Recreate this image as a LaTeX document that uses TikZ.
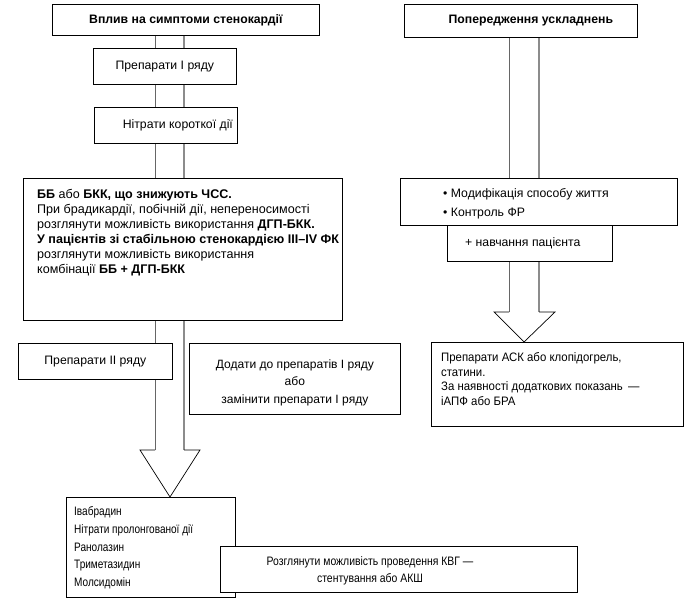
\documentclass[tikz,border=0pt]{standalone}
\usepackage{fontspec}
\setmainfont{Liberation Sans}
\newfontfamily\narrowA[FakeStretch=0.82]{Liberation Sans}
\newfontfamily\narrowB[FakeStretch=0.85]{Liberation Sans}
\newfontfamily\narrowC[FakeStretch=0.93]{Liberation Sans}
\begin{document}
\begin{tikzpicture}[x=1bp,y=-1bp,
  box/.style={draw=black, line width=0.7bp, fill=white, inner sep=0, anchor=north west},
  txt/.style={inner sep=0, font=\fontsize{12.3}{15}\selectfont},
  btxt/.style={inner sep=0, font=\fontsize{12.3}{15}\selectfont\bfseries},
  shaftA/.style={draw=black!60, line width=0.9bp},
  shaftB/.style={draw=black!45, line width=1.3bp},
  head/.style={draw=black, line width=0.7bp, line join=miter}]
\useasboundingbox (0,0) rectangle (690,607);
% arrow shafts (behind boxes)
\coordinate (L1) at (155,35); \coordinate (L2) at (155,450);
\coordinate (R1) at (184,35); \coordinate (R2) at (184,450);
\coordinate (LH1) at (140,450); \coordinate (LT) at (170,497); \coordinate (LH2) at (200,450);
\draw[shaftA] (L1) -- (L2);
\draw[shaftB] (R1) -- (R2);
\draw[head] (L2) -- (LH1) -- (LT) -- (LH2) -- (R2);
\coordinate (M1) at (509,37); \coordinate (M2) at (509,312);
\coordinate (N1) at (539,37); \coordinate (N2) at (539,312);
\coordinate (MH1) at (494,312); \coordinate (MT) at (524,342); \coordinate (MH2) at (555,312);
\draw[shaftA] (M1) -- (M2);
\draw[shaftB] (N1) -- (N2);
\draw[head] (M2) -- (MH1) -- (MT) -- (MH2) -- (N2);
% left column
\node[box, minimum width=267bp, minimum height=31bp] (t1) at (52,4) {};
\node[btxt] (t1t) at (t1.center) {Вплив на симптоми стенокардії};
\node[box, minimum width=143bp, minimum height=36bp] (p1) at (93,48) {};
\node[txt] (p1t) at (p1.center) {Препарати I ряду};
\node[box, minimum width=143bp, minimum height=36bp] (n1) at (94,107) {};
\node[txt] (n1t) at ([xshift=12bp]n1.center) {Нітрати короткої дії};
\node[box, minimum width=319bp, minimum height=142bp] (bb) at (23,178) {};
\node[txt, align=left, anchor=west, font=\fontsize{12.6}{15}\selectfont] (bbt) at (37,233) {\textbf{ББ} або \textbf{БКК, що знижують ЧСС.}\\
При брадикардії, побічній дії, непереносимості\\
розглянути можливість використання \textbf{ДГП-БКК.}\\
\textbf{У пацієнтів зі стабільною стенокардією III–IV ФК}\\
розглянути можливість використання\\
комбінації \textbf{ББ + ДГП-БКК}};
\node[box, minimum width=154bp, minimum height=36bp] (p2) at (18,343) {};
\node[txt] (p2t) at (p2.center) {Препарати II ряду};
\node[box, minimum width=211bp, minimum height=71bp] (dd) at (189,343) {};
\node[txt, align=center, font=\fontsize{12.1}{17.5}\selectfont] (ddt) at ([yshift=-4bp]dd.center) {Додати до препаратів I ряду\\ або\\ замінити препарати I ряду};
\node[box, minimum width=169bp, minimum height=100bp] (iv) at (66,497) {};
\node[txt, align=left, anchor=west, font=\narrowA\fontsize{12.3}{17.75}\selectfont] (ivt) at (74,548) {Івабрадин\\ Нітрати пролонгованої дії\\ Ранолазин\\ Триметазидин\\ Молсидомін};
\node[box, minimum width=357bp, minimum height=46bp] (kv) at (220,546) {};
\node[txt, align=center, font=\narrowB\fontsize{12.3}{17}\selectfont] (kvt) at (370,571) {Розглянути можливість проведення КВГ —\\ стентування або АКШ};
% right column
\node[box, minimum width=233bp, minimum height=33bp] (t2) at (404,4) {};
\node[btxt] (t2t) at ([xshift=10bp]t2.center) {Попередження ускладнень};
\node[box, minimum width=277bp, minimum height=47bp] (mf) at (400,178) {};
\node[txt, align=left, anchor=west, font=\fontsize{12.3}{19}\selectfont] (mft) at (443,204) {• Модифікація способу життя\\ • Контроль ФР};
\node[box, minimum width=165bp, minimum height=36bp] (nv) at (447,225) {};
\node[txt] (nvt) at ([xshift=-7bp]nv.center) {+ навчання пацієнта};
\node[box, minimum width=252bp, minimum height=84bp] (ak) at (431,342) {};
\node[txt, align=left, anchor=west, font=\narrowC\fontsize{12.3}{14.5}\selectfont] (akt) at (441,379) {Препарати АСК або клопідогрель,\\ статини.\\ За наявності додаткових показань \,—\\ іАПФ або БРА};
\end{tikzpicture}
\end{document}
